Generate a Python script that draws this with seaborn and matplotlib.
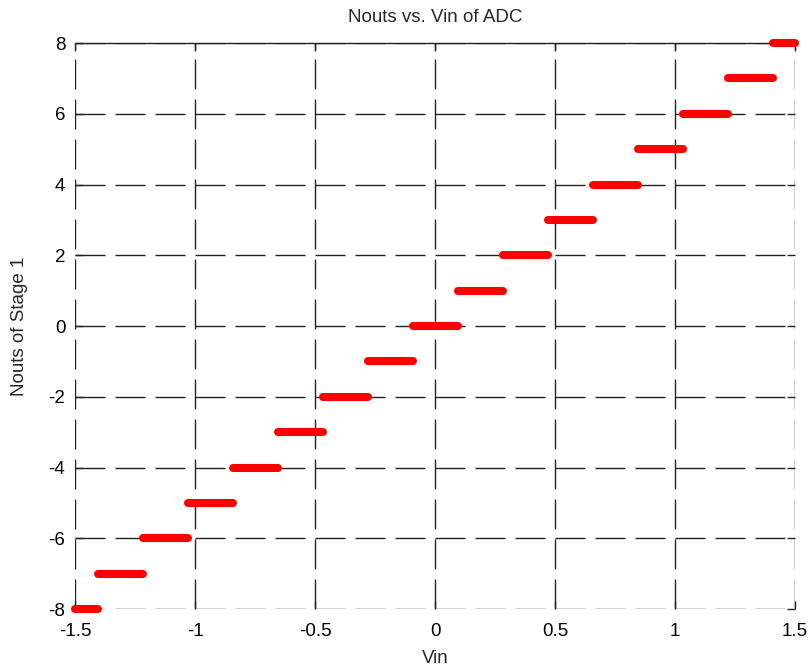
import matplotlib
matplotlib.use("Agg")
import matplotlib.pyplot as plt
import seaborn as sns
import pandas as pd

# Output code levels and the Vin interval each level occupies
levels = [-8, -7, -6, -5, -4, -3, -2, -1, 0, 1, 2, 3, 4, 5, 6, 7, 8]
vin_start = [-1.5, -1.40625, -1.21875, -1.03125, -0.84375, -0.65625, -0.46875,
             -0.28125, -0.09375, 0.09375, 0.28125, 0.46875, 0.65625, 0.84375,
             1.03125, 1.21875, 1.40625]
vin_end = [-1.40625, -1.21875, -1.03125, -0.84375, -0.65625, -0.46875, -0.28125,
           -0.09375, 0.09375, 0.28125, 0.46875, 0.65625, 0.84375, 1.03125,
           1.21875, 1.40625, 1.5]

xticks = [-1.5, -1.0, -0.5, 0.0, 0.5, 1.0, 1.5]
xticklabels = ["-1.5", "-1", "-0.5", "0", "0.5", "1", "1.5"]
yticks = [-8, -6, -4, -2, 0, 2, 4, 6, 8]
yticklabels = ["-8", "-6", "-4", "-2", "0", "2", "4", "6", "8"]

rows = []
for lv, a, b in zip(levels, vin_start, vin_end):
    rows.append({"Vin": a, "Nouts": lv, "level": lv})
    rows.append({"Vin": b, "Nouts": lv, "level": lv})
df = pd.DataFrame(rows)

sns.set_style("white")
plt.rcParams["font.family"] = ["Liberation Sans", "DejaVu Sans"]
fs = 13.5

fig = plt.figure(figsize=(8.10, 6.65), dpi=100)
ax = fig.add_axes([0.0926, 0.0842, 0.8889, 0.8511])

sns.lineplot(data=df, x="Vin", y="Nouts", units="level", estimator=None,
             color="#ff0000", lw=5.8, solid_capstyle="round", ax=ax,
             legend=False, clip_on=False, zorder=5)

ax.set_xlim(-1.5, 1.5)
ax.set_ylim(-8, 8)
ax.set_xticks(xticks)
ax.set_xticklabels(xticklabels, fontsize=fs)
ax.set_yticks(yticks)
ax.set_yticklabels(yticklabels, fontsize=fs)
ax.tick_params(direction="in", length=6, width=1.0, color="#222222",
               top=True, right=True, bottom=True, left=True,
               labelcolor="black")
ax.tick_params(axis="x", pad=10)
ax.tick_params(axis="y", pad=7)

ax.grid(True, color="#222222", linewidth=1.0, linestyle=(0, (21.6, 7.2)))
ax.set_axisbelow(True)

for side in ["left", "right", "bottom"]:
    ax.spines[side].set_visible(False)
ax.spines["top"].set_visible(True)
ax.spines["top"].set_color("#222222")
ax.spines["top"].set_linewidth(1.0)

ax.set_title("Nouts vs. Vin of ADC", fontsize=fs, pad=15)
ax.set_xlabel("Vin", fontsize=fs, labelpad=7)
ax.set_ylabel("Nouts of Stage 1", fontsize=fs, labelpad=15)

fig.savefig("out.png", dpi=100, facecolor="white")
